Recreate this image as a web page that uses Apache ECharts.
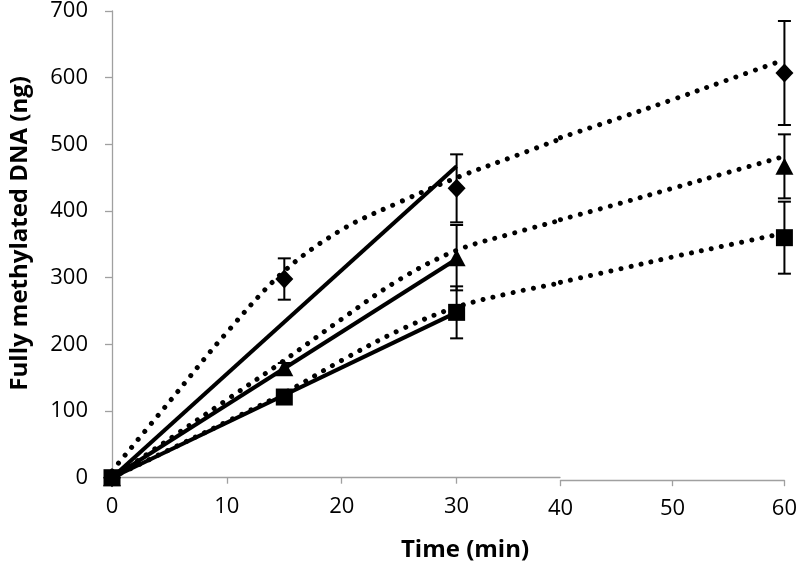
<!DOCTYPE html>
<html>
<head>
<meta charset="utf-8">
<script src="https://cdn.jsdelivr.net/npm/echarts@6/dist/echarts.min.js"></script>
<style>
html,body{margin:0;padding:0;background:#fff;}
#chart{width:800px;height:573px;}
</style>
</head>
<body>
<div id="chart"></div>
<script>
// ---- data ----
const times = [0, 15, 30, 60];
const diamondMean = [0, 298, 434, 607];
const diamondErr = [0, 31, 51, 78];
const triangleMean = [0, 165, 330, 467];
const triangleErr = [0, 7, 49, 48];
const squareMean = [0, 121, 248, 360];
const squareErr = [0, 4, 39, 54];

// linear fits (0-30 min)
const linearTimes = [0, 30];
const diamondLinear = [0, 467];
const triangleLinear = [0, 328];
const squareLinear = [0, 248];

// dotted trend curves; axis is broken between 39 | 40
const curveTimesLeft = [0, 5, 10, 15, 20, 25, 30, 35, 39];
const curveTimesRight = [40, 45, 50, 55, 60];
const diamondCurveLeft = [10, 114, 218, 310, 372, 413, 450, 482, 508];
const diamondCurveRight = [510, 538, 567, 597, 627];
const triangleCurveLeft = [0, 58, 117, 176, 238, 297, 341, 367, 386];
const triangleCurveRight = [387, 410, 434, 458, 482];
const squareCurveLeft = [0, 42, 84, 127, 176, 221, 256, 278, 292];
const squareCurveRight = [293, 312, 331, 349, 367];

const xTicksLeft = [0, 10, 20, 30];
const xTicksRight = [40, 50, 60];
const xTitle = 'Time (min)';
const yTitle = 'Fully methylated DNA (ng)';

// ---- helpers ----
const LEFT_MAX = 39, RIGHT_MIN = 40;
const FONT = '"Open Sans", "Noto Sans", sans-serif';
const AXIS_GRAY = '#a0a0a0';

function zip(xs, ys) { return xs.map((x, i) => [x, ys[i]]); }
function gridOf(t) { return t <= LEFT_MAX ? 0 : 1; }

function pointsIn(g, means) {
  return times.map((t, i) => [t, means[i]]).filter(p => gridOf(p[0]) === g);
}
function errIn(g, means, errs) {
  return times.map((t, i) => [t, means[i] - errs[i], means[i] + errs[i]])
    .filter(p => gridOf(p[0]) === g && p[2] > p[1]);
}

function errorBars(g, means, errs) {
  return {
    type: 'custom',
    xAxisIndex: g, yAxisIndex: g,
    data: errIn(g, means, errs),
    z: 4,
    renderItem: function (params, api) {
      const x = api.value(0);
      const lo = api.coord([x, api.value(1)]);
      const hi = api.coord([x, api.value(2)]);
      const hw = 6.5;
      const st = { stroke: '#000', lineWidth: 2 };
      return {
        type: 'group',
        children: [
          { type: 'line', shape: { x1: lo[0], y1: lo[1], x2: hi[0], y2: hi[1] }, style: st },
          { type: 'line', shape: { x1: hi[0] - hw, y1: hi[1], x2: hi[0] + hw, y2: hi[1] }, style: st },
          { type: 'line', shape: { x1: lo[0] - hw, y1: lo[1], x2: lo[0] + hw, y2: lo[1] }, style: st }
        ]
      };
    }
  };
}

function markers(g, means, symbol, size) {
  return {
    type: 'scatter', xAxisIndex: g, yAxisIndex: g,
    data: pointsIn(g, means), symbol: symbol, symbolSize: size,
    itemStyle: { color: '#000', opacity: 1 }, z: 5, silent: true
  };
}

function dotted(g, xs, ys) {
  return {
    type: 'line', xAxisIndex: g, yAxisIndex: g,
    data: zip(xs, ys), showSymbol: false, symbol: 'none', smooth: 0.35,
    lineStyle: { color: '#000', width: 5, type: [0.01, 10.3], cap: 'round' },
    z: 2, silent: true
  };
}

function solid(ys) {
  return {
    type: 'line', xAxisIndex: 0, yAxisIndex: 0,
    data: zip(linearTimes, ys), showSymbol: false, symbol: 'none',
    lineStyle: { color: '#000', width: 4 }, z: 3, silent: true
  };
}

const labelStyle = { color: '#000', fontFamily: FONT, fontSize: 22 };

const option = {
  animation: false,
  backgroundColor: '#fff',
  grid: [
    { left: 108, right: 240, top: 11, bottom: 95.3 },
    { left: 560.5, right: 12.7, top: 11, bottom: 95.3 }
  ],
  xAxis: [
    {
      gridIndex: 0, type: 'value', min: 0, max: LEFT_MAX, interval: 10,
      axisLine: { onZero: false, lineStyle: { color: AXIS_GRAY, width: 1.3 } },
      axisTick: { length: 6, customValues: xTicksLeft, lineStyle: { color: AXIS_GRAY, width: 1.3 } },
      axisLabel: Object.assign({ customValues: xTicksLeft, margin: 18 }, labelStyle),
      splitLine: { show: false }
    },
    {
      gridIndex: 1, type: 'value', min: RIGHT_MIN, max: 60, interval: 10, offset: 2.5,
      axisLine: { onZero: false, lineStyle: { color: AXIS_GRAY, width: 1.3 } },
      axisTick: { length: 6, customValues: xTicksRight, lineStyle: { color: AXIS_GRAY, width: 1.3 } },
      axisLabel: Object.assign({ customValues: xTicksRight, margin: 18 }, labelStyle),
      splitLine: { show: false }
    }
  ],
  yAxis: [
    {
      gridIndex: 0, type: 'value', min: 0, max: 700, interval: 100,
      axisLine: { show: true, onZero: false, lineStyle: { color: AXIS_GRAY, width: 1.3 } },
      axisTick: { show: true, length: 7, lineStyle: { color: AXIS_GRAY, width: 1.3 } },
      axisLabel: Object.assign({ margin: 24 }, labelStyle),
      splitLine: { show: false },
      name: yTitle, nameLocation: 'middle', nameGap: 80, nameRotate: 90,
      nameTextStyle: { color: '#000', fontFamily: FONT, fontSize: 24, fontWeight: 'bold', padding: [0, 0, 0, 22] }
    },
    { gridIndex: 1, type: 'value', min: 0, max: 700, show: false }
  ],
  graphic: [
    {
      type: 'text', x: 465, y: 550,
      style: { text: xTitle, fill: '#000', font: 'bold 24px ' + FONT, textAlign: 'center', textVerticalAlign: 'middle' }
    }
  ],
  series: [
    dotted(0, curveTimesLeft, diamondCurveLeft),
    dotted(1, curveTimesRight, diamondCurveRight),
    dotted(0, curveTimesLeft, triangleCurveLeft),
    dotted(1, curveTimesRight, triangleCurveRight),
    dotted(0, curveTimesLeft, squareCurveLeft),
    dotted(1, curveTimesRight, squareCurveRight),
    solid(diamondLinear),
    solid(triangleLinear),
    solid(squareLinear),
    errorBars(0, diamondMean, diamondErr),
    errorBars(1, diamondMean, diamondErr),
    errorBars(0, triangleMean, triangleErr),
    errorBars(1, triangleMean, triangleErr),
    errorBars(0, squareMean, squareErr),
    errorBars(1, squareMean, squareErr),
    markers(0, diamondMean, 'diamond', [18, 19]),
    markers(1, diamondMean, 'diamond', [18, 19]),
    markers(0, triangleMean, 'triangle', [18, 17]),
    markers(1, triangleMean, 'triangle', [18, 17]),
    markers(0, squareMean, 'rect', 17),
    markers(1, squareMean, 'rect', 17)
  ]
};

const chart = echarts.init(document.getElementById('chart'), null, { renderer: 'canvas' });
chart.setOption(option);
</script>
</body>
</html>
